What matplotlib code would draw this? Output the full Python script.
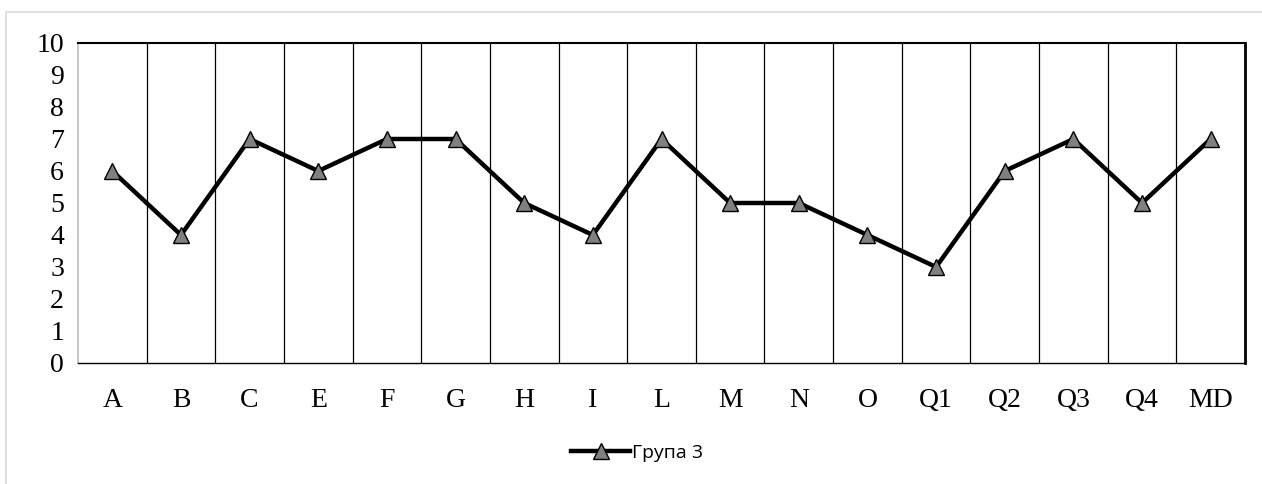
import matplotlib.pyplot as plt
from matplotlib.patches import Rectangle
from matplotlib.lines import Line2D

categories = ['A', 'B', 'C', 'E', 'F', 'G', 'H', 'I', 'L', 'M', 'N', 'O',
              'Q1', 'Q2', 'Q3', 'Q4', 'MD']
group3 = [6, 4, 7, 6, 7, 7, 5, 4, 7, 5, 5, 4, 3, 6, 7, 5, 7]
y_ticks = list(range(0, 11))
series_name = 'Група 3'

W, H = 1262, 484
fig = plt.figure(figsize=(W / 100, H / 100), dpi=100)

# light outer chart border (Excel style)
fig.patches.append(Rectangle((6 / W, -0.1), 1.2, 1 - 12 / H + 0.1,
                             transform=fig.transFigure, fill=False,
                             edgecolor='#d9d9d9', linewidth=1.2))

ax = fig.add_axes([78 / W, 1 - 363 / H, (1245 - 78) / W, 320 / H])
x = list(range(len(categories)))
ax.plot(x, group3, color='black', linewidth=3.2, marker='^', markersize=12,
        markerfacecolor='#808080', markeredgecolor='black',
        markeredgewidth=1.0, zorder=3)

ax.set_xlim(-0.5, len(categories) - 0.5)
ax.set_ylim(0, 10)
ax.set_yticks(y_ticks)
ax.set_xticks(x)
ax.set_xticklabels(categories)

# vertical separators between categories
for b in range(1, len(categories)):
    ax.axvline(b - 0.5, color='black', linewidth=0.9, zorder=1)

serif = 'Liberation Serif'
for lab in ax.get_xticklabels() + ax.get_yticklabels():
    lab.set_fontfamily(serif)
    lab.set_fontsize(20)
ax.tick_params(length=0)
ax.tick_params(axis='x', pad=18)
ax.tick_params(axis='y', pad=10)

ax.spines['left'].set_color('#bfbfbf')
ax.spines['left'].set_linewidth(1.2)
ax.spines['top'].set_linewidth(1.5)
ax.spines['right'].set_linewidth(2.0)
ax.spines['bottom'].set_linewidth(1.0)

handle = Line2D([], [], color='black', linewidth=3.2, marker='^',
                markersize=12, markerfacecolor='#808080',
                markeredgecolor='black', markeredgewidth=1.0)
fig.legend([handle], [series_name], loc='center',
           bbox_to_anchor=(637 / W, 1 - 453 / H), frameon=False,
           prop={'family': 'Open Sans', 'size': 14},
           handlelength=3.0, handletextpad=0.1)

fig.savefig('out.png', dpi=100)
